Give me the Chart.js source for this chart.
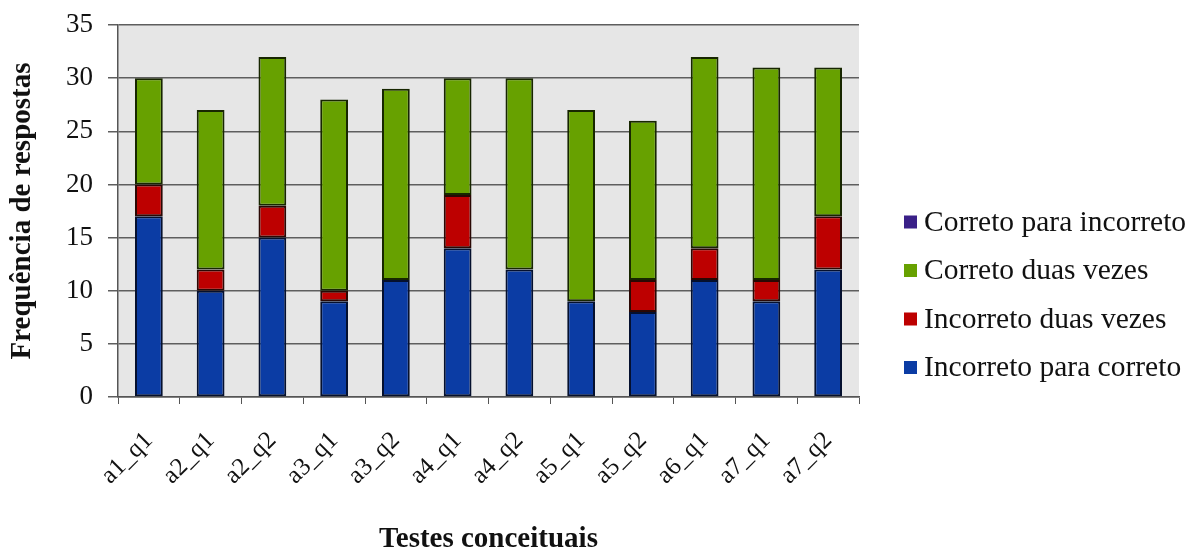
<!DOCTYPE html>
<html>
<head>
<meta charset="utf-8">
<script src="https://cdn.jsdelivr.net/npm/chart.js@4"></script>
<style>
  html, body { margin: 0; padding: 0; background: #ffffff; }
  #wrap { width: 1191px; height: 554px; position: relative; }
</style>
</head>
<body>
<div id="wrap"><canvas id="c" width="1191" height="554"></canvas></div>
<script>
// Categories (conceptual tests) and response counts per outcome
const categories = ['a1_q1', 'a2_q1', 'a2_q2', 'a3_q1', 'a3_q2', 'a4_q1', 'a4_q2', 'a5_q1', 'a5_q2', 'a6_q1', 'a7_q1', 'a7_q2'];
const incorretoParaCorreto = [17, 10, 15, 9, 11, 14, 12, 9, 8, 11, 9, 12];
const incorretoDuasVezes   = [3, 2, 3, 1, 0, 5, 0, 0, 3, 3, 2, 5];
const corretoDuasVezes     = [10, 15, 14, 18, 18, 11, 18, 18, 15, 18, 20, 14];
const corretoParaIncorreto = [0, 0, 0, 0, 0, 0, 0, 0, 0, 0, 0, 0];
const yTicks = [0, 5, 10, 15, 20, 25, 30, 35];

const serif = '"Liberation Serif", "DejaVu Serif", serif';

// Grey plot background behind the bars
const plotBackground = {
  id: 'plotBackground',
  beforeDraw(chart) {
    const { ctx, chartArea: a } = chart;
    ctx.save();
    ctx.fillStyle = '#e6e6e6';
    ctx.fillRect(a.left, a.top, a.right - a.left, a.bottom - a.top);
    ctx.restore();
  }
};

// Legend listed top-down in reverse stacking order, to the right of the plot
const sideLegend = {
  id: 'sideLegend',
  afterDraw(chart) {
    const { ctx } = chart;
    const ds = chart.data.datasets.slice().reverse();
    const x0 = 904, y0 = 222, step = 48.5, box = 13;
    ctx.save();
    ctx.font = '29.5px ' + serif;
    ctx.textBaseline = 'middle';
    ctx.textAlign = 'left';
    ds.forEach((d, i) => {
      const y = y0 + i * step;
      ctx.fillStyle = d.backgroundColor;
      ctx.fillRect(x0, y - box / 2, box, box);
      ctx.fillStyle = '#111111';
      ctx.fillText(d.label, x0 + 20, y + 1);
    });
    ctx.restore();
  }
};

new Chart(document.getElementById('c'), {
  type: 'bar',
  data: {
    labels: categories,
    datasets: [
      { label: 'Incorreto para correto', data: incorretoParaCorreto, backgroundColor: '#0b3ca4', borderColor: '#05102e' },
      { label: 'Incorreto duas vezes',   data: incorretoDuasVezes,   backgroundColor: '#bd0000', borderColor: '#2a0804' },
      { label: 'Correto duas vezes',     data: corretoDuasVezes,     backgroundColor: '#67a100', borderColor: '#172600' },
      { label: 'Correto para incorreto', data: corretoParaIncorreto, backgroundColor: '#3a2088', borderColor: '#140930' }
    ]
  },
  options: {
    responsive: false,
    animation: false,
    events: [],
    layout: { padding: { top: 25, right: 332, bottom: 0, left: 0 } },
    datasets: {
      bar: { barPercentage: 0.45, categoryPercentage: 1, borderWidth: 2, borderSkipped: false }
    },
    plugins: {
      legend: { display: false },
      tooltip: { enabled: false }
    },
    scales: {
      x: {
        stacked: true,
        afterFit(scale) { scale.height = 157; scale.paddingLeft = 0; scale.paddingRight = 0; },
        grid: { offset: true, drawOnChartArea: false, drawTicks: true, tickLength: 7, color: '#555555', lineWidth: 1 },
        border: { display: true, color: '#555555', width: 1.5 },
        ticks: {
          minRotation: 45, maxRotation: 45, autoSkip: false, padding: 22,
          color: '#111111', font: { family: serif, size: 25 }
        },
        title: {
          display: true, text: 'Testes conceituais', color: '#111111',
          font: { family: serif, size: 29, weight: 'bold' }, padding: { top: 0, bottom: -3 }
        }
      },
      y: {
        stacked: true,
        min: 0, max: 35,
        afterFit(scale) { scale.width = 118; scale.paddingTop = 0; scale.paddingBottom = 0; },
        afterBuildTicks(scale) { scale.ticks = yTicks.map(v => ({ value: v })); },
        grid: { color: '#5e5e5e', lineWidth: 1.5, tickLength: 10 },
        border: { display: true, color: '#555555', width: 1.5 },
        ticks: { padding: 15, color: '#111111', font: { family: serif, size: 27 } },
        title: {
          display: true, text: 'Frequência de respostas', color: '#111111',
          font: { family: serif, size: 29, weight: 'bold' }, padding: { top: 5, bottom: 0 }
        }
      }
    }
  },
  plugins: [plotBackground, sideLegend]
});
</script>
</body>
</html>
